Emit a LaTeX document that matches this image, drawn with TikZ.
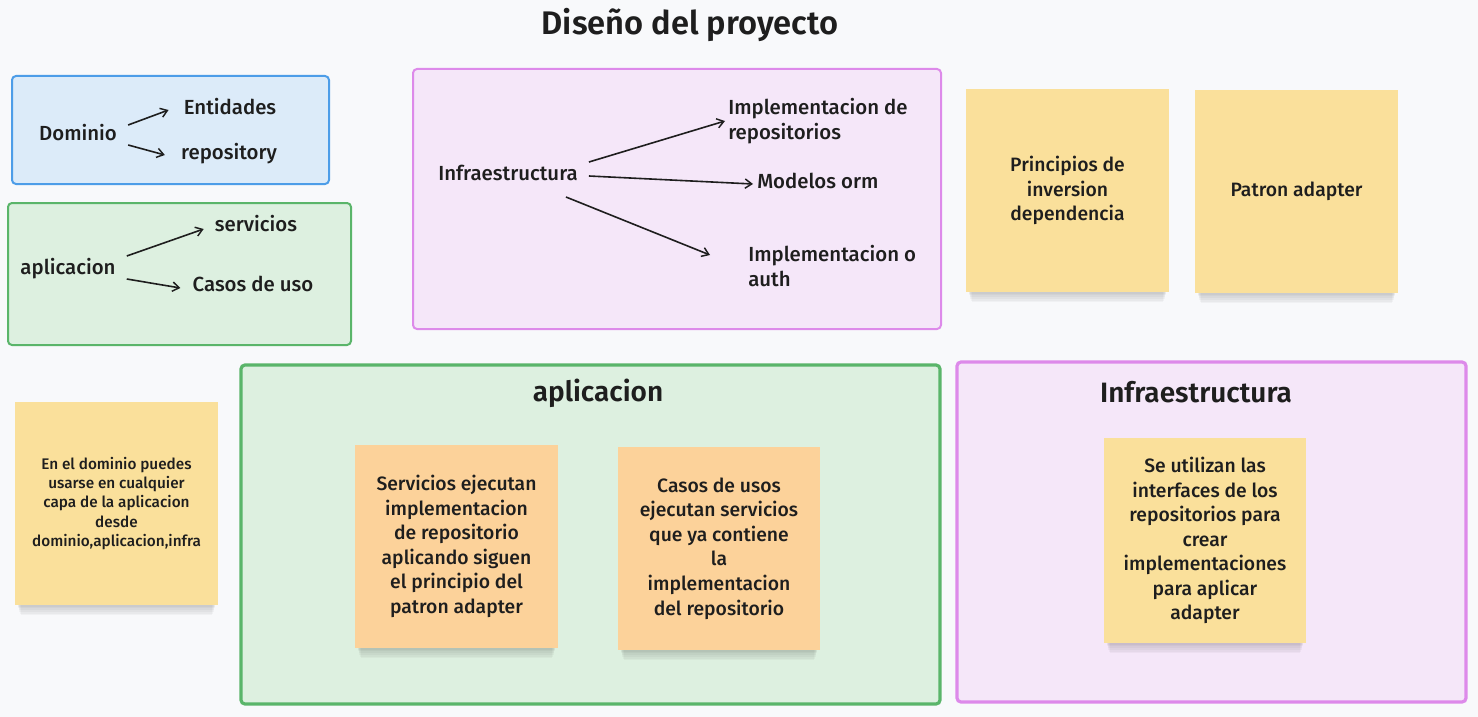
\documentclass[tikz,border=0pt]{standalone}
\usepackage{fontspec}
\setmainfont{Fira Sans}[UprightFont={* Medium}, BoldFont={* SemiBold}]
\usetikzlibrary{arrows.meta,calc}
\definecolor{bgc}{HTML}{F8F9FB}
\definecolor{ink}{HTML}{1E1E1E}
\definecolor{bluef}{HTML}{DCEBF9}
\definecolor{blueb}{HTML}{4D9DE8}
\definecolor{greenf}{HTML}{DDF0E0}
\definecolor{greenb}{HTML}{5AB56A}
\definecolor{purf}{HTML}{F5E7F9}
\definecolor{purb}{HTML}{DD8AEA}
\definecolor{yel}{HTML}{FAE09B}
\definecolor{ora}{HTML}{FCD29A}
\newcommand\shd[4]{\foreach \k in {1,...,6}{\fill[black,opacity=0.03] (#1+\k*0.6+2, #2+10) rectangle (#3-\k*0.6-2, #4+\k*1.7);}}
\begin{document}
\begin{tikzpicture}[x=0.75pt,y=-0.75pt,
  lbl/.style={font=\fontsize{15.3}{18.4}\selectfont, text=ink, inner sep=0pt},
  head/.style={font=\bfseries\fontsize{21}{24}\selectfont, text=ink, inner sep=0pt},
  arr/.style={-{Straight Barb[length=5pt,width=7pt,line width=1.1pt]}, line width=1.2pt, ink},
  frame/.style={rounded corners=3pt},
  sticky/.style={inner sep=0pt, minimum width=152pt, minimum height=152pt, align=center,
     font=\fontsize{14.5}{18.4}\selectfont, text=ink}
]
\fill[bgc] (0,0) rectangle (1478,717);
\useasboundingbox (0,0) rectangle (1478,717);

% title
\node[font=\bfseries\fontsize{24.5}{28}\selectfont, text=ink, inner sep=0pt] (title) at (690,25) {Diseño del proyecto};

% frames
\draw[frame, draw=blueb, fill=bluef, line width=1.5pt] (12,76) rectangle (329,184);
\draw[frame, draw=greenb, fill=greenf, line width=1.5pt] (8,203) rectangle (351,345);
\draw[frame, draw=purb, fill=purf, line width=1.5pt] (413,69) rectangle (941,329);
\draw[frame, draw=greenb, fill=greenf, line width=2.4pt] (241,365) rectangle (940,704);
\draw[frame, draw=purb, fill=purf, line width=2.4pt] (957,362) rectangle (1466,702);

% Dominio group
\node[lbl] (dom) at (78,133) {Dominio};
\node[lbl] (ent) at (230,107) {Entidades};
\node[lbl] (rep) at (229,154) {repository};
\draw[arr] ($(dom.east)+(11,-8)$) -- ($(ent.west)+(-15,3)$);
\draw[arr] ($(dom.east)+(11,12)$) -- ($(rep.west)+(-16,1)$);

% aplicacion group
\node[lbl] (apl) at (68,269) {aplicacion};
\node[lbl] (serv) at (256,224) {servicios};
\node[lbl] (casos) at (253,284) {Casos de uso};
\draw[arr] ($(apl.east)+(11,-13)$) -- ($(serv.west)+(-11,5)$);
\draw[arr] ($(apl.east)+(11,10)$) -- ($(casos.west)+(-12,4)$);

% Infraestructura group
\node[lbl] (inf) at (508,173) {Infraestructura};
\node[lbl, anchor=west, align=left] (impl) at (728,121) {Implementacion de\\repositorios};
\node[lbl, anchor=west] (orm) at (757,181) {Modelos orm};
\node[lbl, anchor=west, align=left] (auth) at (748,266) {Implementacion o\\auth};
\draw[arr] ($(inf.east)+(11,-11)$) -- ($(impl.west)+(-3,0)$);
\draw[arr] ($(inf.east)+(11,3)$) -- ($(orm.west)+(-4,3)$);
\draw[arr] ($(inf.east)+(-12,24)$) -- ($(auth.west)+(-38,-11)$);

% top right stickies
\shd{966}{89}{1169}{292}
\node[sticky, fill=yel] (s1) at (1067.5,190.5) {Principios de\\inversion\\dependencia};
\shd{1195}{90}{1398}{293}
\node[sticky, fill=yel] (s2) at (1296.5,191.5) {Patron adapter};

% left sticky
\shd{15}{402}{218}{605}
\node[sticky, fill=yel, font=\fontsize{11.5}{14.3}\selectfont] (s3) at (116.5,503.5) {En el dominio puedes\\usarse en cualquier\\capa de la aplicacion\\desde\\dominio,aplicacion,infra};

% aplicacion big
\node[head] (aplt) at (598,393) {aplicacion};
\shd{355}{445}{558}{648}
\node[sticky, fill=ora] (o1) at (456.5,546.5) {Servicios ejecutan\\implementacion\\de repositorio\\aplicando siguen\\el principio del\\patron adapter};
\shd{618}{447}{820}{650}
\node[sticky, fill=ora, minimum width=151.5pt] (o2) at (719,548.5) {Casos de usos\\ejecutan servicios\\que ya contiene\\la\\implementacion\\del repositorio};

% Infraestructura big
\node[head] (inft) at (1196,392) {Infraestructura};
\shd{1104}{438}{1306}{643}
\node[sticky, fill=yel, minimum width=151.5pt, minimum height=153.75pt] (s4) at (1205,540.5) {Se utilizan las\\interfaces de los\\repositorios para\\crear\\implementaciones\\para aplicar\\adapter};
\end{tikzpicture}
\end{document}
